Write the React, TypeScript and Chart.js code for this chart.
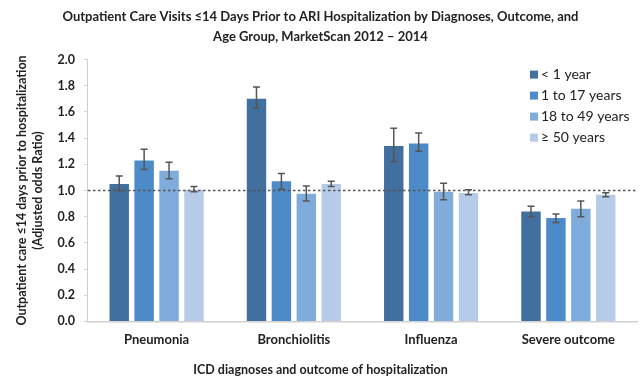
import React, { useEffect, useRef } from "react";
import { Chart, registerables } from "chart.js";

Chart.register(...registerables);

const categories = ["Pneumonia", "Bronchiolitis", "Influenza", "Severe outcome"];
const seriesLabels = ["< 1 year", "1 to 17 years", "18 to 49 years", "\u2265 50 years"];
const seriesColors = ["#41709f", "#4c8bc8", "#80acdc", "#b6cbe7"];

const under1 = [1.05, 1.7, 1.34, 0.84];
const age1to17 = [1.23, 1.07, 1.36, 0.79];
const age18to49 = [1.15, 0.975, 0.99, 0.86];
const age50plus = [1.005, 1.05, 0.98, 0.967];

const under1Low = [1.0, 1.63, 1.22, 0.8];
const under1High = [1.11, 1.79, 1.475, 0.88];
const age1to17Low = [1.16, 1.01, 1.3, 0.755];
const age1to17High = [1.315, 1.13, 1.44, 0.82];
const age18to49Low = [1.09, 0.92, 0.93, 0.8];
const age18to49High = [1.215, 1.035, 1.055, 0.92];
const age50plusLow = [0.99, 1.03, 0.967, 0.952];
const age50plusHigh = [1.03, 1.07, 1.005, 0.983];

const referenceValue = 1.0;
const yTicksMin = 0;
const yTicksMax = 2;
const yStep = 0.2;

const seriesValues = [under1, age1to17, age18to49, age50plus];
const seriesLow = [under1Low, age1to17Low, age18to49Low, age50plusLow];
const seriesHigh = [under1High, age1to17High, age18to49High, age50plusHigh];

const FONT = "Lato, 'DejaVu Sans', sans-serif";

const errorBarPlugin = {
  id: "errorBars",
  afterDatasetsDraw(chart: any) {
    const ctx = chart.ctx;
    const y = chart.scales.y;
    ctx.save();
    ctx.strokeStyle = "#555555";
    ctx.lineWidth = 1.5;
    chart.data.datasets.forEach((ds: any, i: number) => {
      const meta = chart.getDatasetMeta(i);
      meta.data.forEach((bar: any, j: number) => {
        const x = bar.x;
        const yl = y.getPixelForValue(seriesLow[i][j]);
        const yh = y.getPixelForValue(seriesHigh[i][j]);
        ctx.beginPath();
        ctx.moveTo(x, yl);
        ctx.lineTo(x, yh);
        ctx.moveTo(x - 3.5, yl);
        ctx.lineTo(x + 3.5, yl);
        ctx.moveTo(x - 3.5, yh);
        ctx.lineTo(x + 3.5, yh);
        ctx.stroke();
      });
    });
    ctx.restore();
  },
};

const refLinePlugin = {
  id: "refLine",
  afterDatasetsDraw(chart: any) {
    const ctx = chart.ctx;
    const area = chart.chartArea;
    const yy = chart.scales.y.getPixelForValue(referenceValue);
    ctx.save();
    ctx.strokeStyle = "#555555";
    ctx.lineWidth = 1.3;
    ctx.setLineDash([2.5, 2.5]);
    ctx.beginPath();
    ctx.moveTo(area.left, yy);
    ctx.lineTo(area.right, yy);
    ctx.stroke();
    ctx.restore();
  },
};

const legendPlugin = {
  id: "customLegend",
  afterDraw(chart: any) {
    const ctx = chart.ctx;
    const area = chart.chartArea;
    const x0 = area.right - 107;
    const y0 = area.top + 15;
    ctx.save();
    ctx.font = "14px " + FONT;
    ctx.textBaseline = "middle";
    ctx.textAlign = "left";
    chart.data.datasets.forEach((ds: any, i: number) => {
      const yy = y0 + i * 21;
      ctx.fillStyle = ds.backgroundColor;
      ctx.fillRect(x0, yy - 4, 8, 8);
      ctx.fillStyle = "#222222";
      ctx.fillText(ds.label, x0 + 11, yy);
    });
    ctx.restore();
  },
};

export default function App() {
  const ref = useRef<HTMLCanvasElement>(null);
  useEffect(() => {
    if (!ref.current) return;
    const chart = new Chart(ref.current, {
      type: "bar",
      data: {
        labels: categories,
        datasets: seriesValues.map((vals, i) => ({
          label: seriesLabels[i],
          data: vals,
          backgroundColor: seriesColors[i],
          borderWidth: 0,
          barPercentage: 0.78,
          categoryPercentage: 0.726,
        })),
      },
      options: {
        animation: false,
        responsive: true,
        maintainAspectRatio: false,
        layout: { padding: { left: 4, right: 4, top: 0, bottom: 0 } },
        plugins: {
          legend: { display: false },
          tooltip: { enabled: false },
          title: {
            display: true,
            text: [
              "Outpatient Care Visits \u226414 Days Prior to ARI Hospitalization by Diagnoses, Outcome, and",
              "Age Group, MarketScan 2012 \u2013 2014",
            ],
            color: "#222222",
            font: { family: FONT, size: 13, weight: "bold", lineHeight: 1.6 },
            padding: { top: 6, bottom: 12 },
          },
          subtitle: {
            display: true,
            position: "bottom",
            text: "ICD diagnoses and outcome of hospitalization",
            color: "#222222",
            font: { family: FONT, size: 12.5, weight: "bold" },
            padding: { top: 3, bottom: 0 },
          },
        },
        scales: {
          x: {
            grid: { display: false, drawTicks: false },
            border: { color: "#d0d0d0", width: 1.5 },
            ticks: {
              color: "#222222",
              font: { family: FONT, size: 13, weight: "bold" },
              padding: 11,
            },
          },
          y: {
            min: yTicksMin,
            max: yTicksMax,
            grid: { drawOnChartArea: false, color: "#d0d0d0", tickLength: 4 },
            border: { color: "#d0d0d0", width: 1 },
            ticks: {
              stepSize: yStep,
              color: "#222222",
              font: { family: FONT, size: 12.5, weight: "bold" },
              padding: 9,
              callback: (v: any) => Number(v).toFixed(1),
            },
            title: {
              display: true,
              text: ["Outpatient care \u226414 days prior to hospitalization", "(Adjusted odds Ratio)"],
              color: "#222222",
              font: { family: FONT, size: 12.5, weight: "bold", lineHeight: 1.3 },
              padding: { top: 10, bottom: 2 },
            },
          },
        },
      },
      plugins: [refLinePlugin, errorBarPlugin, legendPlugin],
    });
    return () => chart.destroy();
  }, []);
  return (
    <div style={{ position: "fixed", left: 0, top: 0, width: 641, height: 377, background: "#ffffff" }}>
      <canvas ref={ref} />
    </div>
  );
}
